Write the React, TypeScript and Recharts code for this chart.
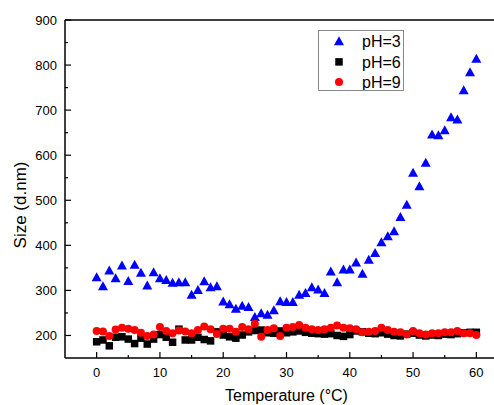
import React from 'react';
import { ScatterChart, Scatter, XAxis, YAxis, ReferenceLine, Legend } from 'recharts';

const temperature = [
  0, 1, 2, 3, 4, 5, 6, 7, 8, 9, 10, 11, 12, 13, 14, 15, 16, 17, 18, 19, 20,
  21, 22, 23, 24, 25, 26, 27, 28, 29, 30, 31, 32, 33, 34, 35, 36, 37, 38, 39, 40,
  41, 42, 43, 44, 45, 46, 47, 48, 49, 50, 51, 52, 53, 54, 55, 56, 57, 58, 59, 60,
];

const sizePH3 = [
  328, 308, 343, 326, 354, 320, 356, 338, 310, 339, 326, 322, 316, 317, 317, 289, 300, 319, 306, 308, 274,
  268, 258, 265, 262, 240, 248, 245, 255, 275, 273, 273, 289, 293, 306, 301, 293, 341, 317, 345, 345,
  361, 336, 367, 382, 406, 419, 430, 462, 489, 560, 530, 582, 645, 643, 654, 683, 678, 743, 783, 813,
];

const sizePH6 = [
  186, 190, 177, 196, 197, 192, 182, 194, 181, 192, 202, 196, 185, 214, 190, 190, 196, 191, 188, 208, 201,
  197, 194, 201, 208, 211, 212, 206, 205, 210, 206, 208, 210, 207, 205, 204, 203, 204, 200, 198, 202,
  210, 208, 205, 204, 206, 203, 200, 199, 203, 205, 201, 199, 201, 200, 203, 202, 204, 206, 207, 207,
];

const sizePH9 = [
  210, 209, 199, 213, 217, 215, 212, 206, 199, 202, 219, 210, 205, 211, 209, 205, 212, 220, 214, 203, 215,
  215, 208, 219, 214, 226, 197, 212, 216, 199, 217, 219, 223, 217, 214, 212, 214, 217, 222, 217, 216,
  214, 207, 208, 210, 217, 212, 208, 207, 202, 210, 205, 202, 205, 205, 207, 207, 210, 205, 205, 201,
];

const seriesNames = ['pH=3', 'pH=6', 'pH=9'];
const seriesColors = ['#0000ff', '#000000', '#ff0000'];

const xTicks = [0, 5, 10, 15, 20, 25, 30, 35, 40, 45, 50, 55, 60];
const yTicks = [200, 250, 300, 350, 400, 450, 500, 550, 600, 650, 700, 750, 800, 850, 900];

const xLabel = 'Temperature (°C)';
const yLabel = 'Size (d.nm)';

const toPoints = (vals: number[]) => temperature.map((t, i) => ({ t, v: vals[i] }));

const FONT = "Arial, 'Liberation Sans', sans-serif";

const XTick = (props: any) => {
  const { x, y, payload } = props;
  const major = payload.value % 10 === 0;
  return (
    <g>
      <line x1={x} x2={x} y1={y} y2={y - (major ? 6 : 3)} stroke="#000" strokeWidth={1.2} />
      {major && (
        <text x={x} y={y + 19} textAnchor="middle" fontSize={13} fontFamily={FONT} fill="#000">
          {payload.value}
        </text>
      )}
    </g>
  );
};

const YTick = (props: any) => {
  const { x, y, payload } = props;
  const major = payload.value % 100 === 0;
  return (
    <g>
      <line x1={x} x2={x + (major ? 6 : 3)} y1={y} y2={y} stroke="#000" strokeWidth={1.2} />
      {major && (
        <text x={x - 8} y={y} dy="0.36em" textAnchor="end" fontSize={13} fontFamily={FONT} fill="#000">
          {payload.value}
        </text>
      )}
    </g>
  );
};

const drawMarker = (kind: number, cx: number, cy: number, color: string) => {
  if (cx == null || cy == null) return <g />;
  if (kind === 0) {
    return (
      <polygon
        points={`${cx},${cy - 5.5} ${cx - 5},${cy + 3.5} ${cx + 5},${cy + 3.5}`}
        fill={color}
      />
    );
  }
  if (kind === 1) {
    return <rect x={cx - 3.75} y={cy - 3.75} width={7.5} height={7.5} fill={color} />;
  }
  return <circle cx={cx} cy={cy} r={4} fill={color} />;
};

const TriangleShape = (p: any) => drawMarker(0, p.cx, p.cy, seriesColors[0]);
const SquareShape = (p: any) => drawMarker(1, p.cx, p.cy, seriesColors[1]);
const CircleShape = (p: any) => drawMarker(2, p.cx, p.cy, seriesColors[2]);

const renderLegend = () => (
  <div
    style={{
      width: 86,
      height: 61,
      border: '1px solid #888',
      boxSizing: 'border-box',
      background: '#fff',
    }}
  >
    <svg width={84} height={59} style={{ display: 'block' }}>
      {seriesNames.map((name, i) => {
        const cy = 10.7 + i * 20.2;
        return (
          <g key={name}>
            {drawMarker(i, 20, cy, seriesColors[i])}
            <text x={43} y={cy} dy="0.36em" fontSize={16} fontFamily={FONT} fill="#000">
              {name}
            </text>
          </g>
        );
      })}
    </svg>
  </div>
);

const YLabelContent = () => (
  <text
    x={20}
    y={205}
    transform="rotate(-90, 20, 205)"
    textAnchor="middle"
    dy="0.36em"
    fontSize={17}
    fontFamily={FONT}
    fill="#000"
  >
    {yLabel}
  </text>
);

export default function App() {
  return (
    <div
      style={{
        position: 'absolute',
        left: 0,
        top: 0,
        width: 494,
        height: 405,
        overflow: 'hidden',
        background: '#fff',
        fontFamily: FONT,
      }}
    >
      <ScatterChart width={510} height={405} margin={{ top: 20, right: 2, left: 0, bottom: 0 }}>
        <XAxis
          dataKey="t"
          type="number"
          domain={[-5, 65]}
          ticks={xTicks}
          interval={0}
          tickSize={0}
          tickMargin={0}
          tickLine={false}
          tick={<XTick />}
          axisLine={{ stroke: '#000', strokeWidth: 1.5 }}
          height={47}
          allowDataOverflow
          label={{ value: xLabel, position: 'insideBottom', offset: 4, fontSize: 16, fill: '#000', fontFamily: FONT }}
        />
        <YAxis
          dataKey="v"
          type="number"
          domain={[150, 900]}
          ticks={yTicks}
          interval={0}
          tickSize={0}
          tickMargin={0}
          tickLine={false}
          tick={<YTick />}
          axisLine={{ stroke: '#000', strokeWidth: 1.5 }}
          width={65}
          allowDataOverflow
          label={{ content: <YLabelContent /> }}
        />
        <ReferenceLine y={900} stroke="#000" strokeWidth={1.5} ifOverflow="visible" />
        <ReferenceLine x={65} stroke="#000" strokeWidth={1.5} ifOverflow="visible" />
        <Legend
          layout="vertical"
          align="center"
          verticalAlign="middle"
          content={renderLegend}
          wrapperStyle={{ left: 318, top: 30, width: 86, height: 61 }}
        />
        <Scatter name={seriesNames[0]} data={toPoints(sizePH3)} fill={seriesColors[0]} shape={TriangleShape} isAnimationActive={false} />
        <Scatter name={seriesNames[1]} data={toPoints(sizePH6)} fill={seriesColors[1]} shape={SquareShape} isAnimationActive={false} />
        <Scatter name={seriesNames[2]} data={toPoints(sizePH9)} fill={seriesColors[2]} shape={CircleShape} isAnimationActive={false} />
      </ScatterChart>
    </div>
  );
}
